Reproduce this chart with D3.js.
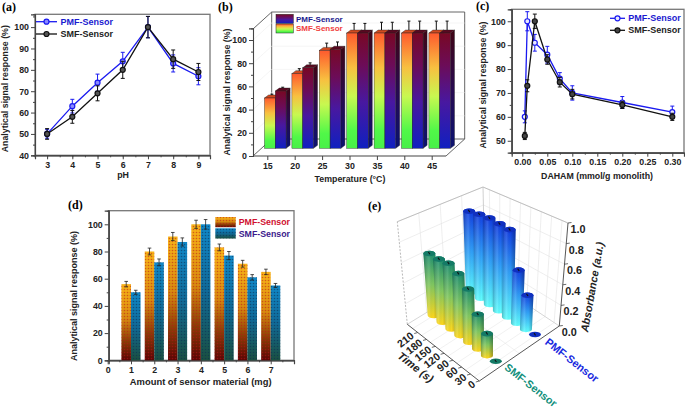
<!DOCTYPE html>
<html>
<head>
<meta charset="utf-8">
<script src="https://cdnjs.cloudflare.com/ajax/libs/d3/7.8.5/d3.min.js"></script>
<style>
  html, body { margin: 0; padding: 0; background: #fff; }
  text { font-family: "Liberation Sans", Arial, sans-serif; font-weight: bold; fill: #222; }
  .panel { font-family: "Liberation Serif", serif; font-size: 12px; fill: #000; }
  .axis path, .axis line { stroke: #444; }
  .axis text { font-size: 8.8px; }
</style>
</head>
<body>
<svg id="chart" width="685" height="410"></svg>
<script>
// (a) pH
const phValues = [3, 4, 5, 6, 7, 8, 9];
const phPmf = [50, 63, 74, 84, 100, 83, 77];
const phPmfErr = [2, 3.2, 4, 4.2, 5, 4, 4];
const phSmf = [50, 58, 69, 80, 100, 85, 79];
const phSmfErr = [2.5, 3, 3.5, 4, 5, 4.3, 4];

// (b) temperature
const temps = [15, 20, 25, 30, 35, 40, 45];
const tempSmf = [50, 71, 91, 106, 106, 106, 106];
const tempSmfErr = [2, 3, 5, 7, 8, 9, 9];
const tempPmf = [56, 76, 92, 106, 106, 106, 106];
const tempPmfErr = [2, 3, 5, 7, 8, 9, 9];

// (c) DAHAM
const dahamValues = [0.005, 0.01, 0.025, 0.05, 0.075, 0.1, 0.2, 0.3];
const dahamPmf = [60, 100, 91, 86, 76, 70, 66, 62];
const dahamPmfErr = [2.5, 4, 3.5, 3.5, 2.5, 3, 2.5, 2.5];
const dahamSmf = [52, 73, 100, 84, 74.5, 69.5, 65, 60];
const dahamSmfErr = [1.5, 2.5, 3, 2, 2, 2, 1.5, 1.5];

// (d) amount
const amounts = [1, 2, 3, 4, 5, 6, 7];
const amountPmf = [56, 80, 91, 100, 83, 71, 65];
const amountPmfErr = [2, 2.5, 3, 3, 2.5, 2.5, 2];
const amountSmf = [50, 72, 87, 100, 77, 61, 55];
const amountSmfErr = [1.5, 2.5, 3, 3.5, 3, 2, 1.5];

// (e) time
const times = [0, 30, 60, 90, 120, 150, 180, 210];
const timeSmf = [0.01, 0.2, 0.32, 0.5, 0.59, 0.635, 0.62, 0.62];
const timePmf = [0.01, 0.33, 0.52, 0.87, 0.88, 0.89, 0.88, 0.86];

const svg = d3.select("#chart");
const defs = svg.append("defs");

function vGrad(id, stops) {
  const g = defs.append("linearGradient").attr("id", id)
    .attr("x1", 0).attr("y1", 0).attr("x2", 0).attr("y2", 1);
  stops.forEach(s => g.append("stop").attr("offset", s[0]).attr("stop-color", s[1]));
}

function label(x, y, txt, size, opts = {}) {
  const t = svg.append("text")
    .attr("x", x).attr("y", y)
    .attr("text-anchor", opts.anchor || "middle")
    .attr("dominant-baseline", "central")
    .style("font-size", size + "px")
    .text(txt);
  if (opts.fill) t.style("fill", opts.fill);
  if (opts.rotate != null) t.attr("transform", `rotate(${opts.rotate},${x},${y})`);
  if (opts.italic) t.style("font-style", "italic");
  return t;
}

function panelLabel(x, y, txt) {
  svg.append("text").attr("class", "panel").attr("x", x).attr("y", y).text(txt);
}

// box plus major and minor ticks
function frame(x, y, o) {
  const [x0, x1] = x.range(), [y0, y1] = y.range();
  svg.append("rect").attr("x", x0).attr("y", y1).attr("width", x1 - x0).attr("height", y0 - y1)
    .attr("fill", "none").attr("stroke", "#777").attr("stroke-width", 1.3);
  const bx = svg.append("g").attr("class", "axis").attr("transform", `translate(0,${y0})`);
  bx.call(d3.axisBottom(x).tickValues(o.xMinor).tickSize(2).tickFormat(""));
  bx.call(g => g.selectAll(".tick text").remove());
  const bxM = svg.append("g").attr("class", "axis").attr("transform", `translate(0,${y0})`)
    .call(d3.axisBottom(x).tickValues(o.xTicks).tickSize(4).tickPadding(2).tickFormat(o.xFormat || (d => d)));
  bxM.select(".domain").attr("stroke-width", 1.2);
  const ly = svg.append("g").attr("class", "axis").attr("transform", `translate(${x0},0)`);
  ly.call(d3.axisLeft(y).tickValues(o.yMinor).tickSize(2).tickFormat(""));
  const lyM = svg.append("g").attr("class", "axis").attr("transform", `translate(${x0},0)`)
    .call(d3.axisLeft(y).tickValues(o.yTicks).tickSize(4).tickPadding(2));
  lyM.select(".domain").attr("stroke-width", 1.2);
}

function errorBars(g, xs, vals, errs, x, y, color, cap = 2, w = 1) {
  xs.forEach((d, i) => {
    const px = x(d), t = y(vals[i] + errs[i]), b = y(vals[i] - errs[i]);
    g.append("path").attr("d", `M${px - cap},${t}H${px + cap}M${px},${t}V${b}M${px - cap},${b}H${px + cap}`)
      .attr("stroke", color).attr("stroke-width", w).attr("fill", "none");
  });
}

function lineSeries(xs, vals, errs, x, y, color, fill) {
  const g = svg.append("g");
  errorBars(g, xs, vals, errs, x, y, color);
  g.append("path")
    .attr("d", d3.line().x((d, i) => x(xs[i])).y(d => y(d))(vals))
    .attr("fill", "none").attr("stroke", color).attr("stroke-width", 1.3);
  g.selectAll("circle").data(vals).enter().append("circle")
    .attr("cx", (d, i) => x(xs[i])).attr("cy", d => y(d)).attr("r", 2.5)
    .attr("fill", fill).attr("stroke", color).attr("stroke-width", 1.2);
}

function lineLegend(x0, x1, yy, tx, txt, color, fill, textColor) {
  svg.append("line").attr("x1", x0).attr("x2", x1).attr("y1", yy).attr("y2", yy)
    .attr("stroke", color).attr("stroke-width", 1.3);
  svg.append("circle").attr("cx", (x0 + x1) / 2).attr("cy", yy).attr("r", 2.5)
    .attr("fill", fill).attr("stroke", color).attr("stroke-width", 1.2);
  label(tx, yy, txt, 9, { anchor: "start", fill: textColor });
}

const blue = "#1a1af0", black = "#111";

// ---------- (a) ----------
{
  const x = d3.scaleLinear().domain([2.52, 9.46]).range([35, 210]);
  const y = d3.scaleLinear().domain([40, 106]).range([155.3, 14.3]);
  frame(x, y, {
    xTicks: phValues, xMinor: d3.range(2.5, 9.5, 0.5),
    yTicks: d3.range(40, 101, 10), yMinor: d3.range(45, 106, 10)
  });
  lineSeries(phValues, phPmf, phPmfErr, x, y, blue, "#8a8aff");
  lineSeries(phValues, phSmf, phSmfErr, x, y, black, "#555");
  lineLegend(36, 57, 21.7, 60.5, "PMF-Sensor", blue, "#8a8aff", "#1a1ad0");
  lineLegend(36, 57, 34, 60.5, "SMF-Sensor", black, "#555", "#222");
  label(5, 88.7, "Analytical signal response (%)", 8.8, { rotate: -90 });
  label(123, 175, "pH", 8.8);
  panelLabel(2, 11, "(a)");
}

// ---------- (b) ----------
{
  vGrad("smfBar", [[0, "#ff5a2e"], [0.3, "#f8c040"], [0.55, "#c8f850"], [0.85, "#50f848"], [1, "#48f048"]]);
  vGrad("smfSide", [[0, "#a03a18"], [0.5, "#88a030"], [1, "#2a8a28"]]);
  vGrad("pmfBar", [[0, "#780824"], [0.28, "#6c0c58"], [0.6, "#4818a0"], [1, "#1020c0"]]);
  vGrad("pmfSide", [[0, "#400414"], [0.5, "#280a50"], [1, "#0a1270"]]);

  const dx = 18.7, dy = -17;
  const x = d3.scaleLinear().domain([15, 45]).range([267.3, 431.7]);
  const y = d3.scaleLinear().domain([0, 110]).range([156, 28.4]);
  const floorY = 148.3, barW = 10.8, sideX = 4, sideY = -3, shift = 8;
  const xL = 253, xR = 446, y0 = 156, yT = 29;

  const wall = svg.append("g").attr("fill", "none");
  wall.append("path").attr("d", `M${xL},${y0}L${xL + dx},${y0 + dy}V${yT + dy}H${xR + dx}V${y0 + dy}H${xL + dx}`)
    .attr("stroke", "#555").attr("stroke-width", 0.9);
  wall.append("path").attr("d", `M${xL},${yT}L${xL + dx},${yT + dy}M${xR},${y0}L${xR + dx},${y0 + dy}`)
    .attr("stroke", "#555").attr("stroke-width", 0.9);
  d3.range(20, 101, 20).forEach(v => {
    wall.append("path").attr("d", `M${xL},${y(v)}L${xL + dx},${y(v) + dy}H${xR + dx}`)
      .attr("stroke", "#eee").attr("stroke-width", 0.6);
  });

  // axes
  svg.append("g").attr("class", "axis").attr("transform", `translate(${xL},0)`)
    .call(d3.axisLeft(y).tickValues(d3.range(10, 110, 20)).tickSize(2).tickFormat(""));
  const ly = svg.append("g").attr("class", "axis").attr("transform", `translate(${xL},0)`)
    .call(d3.axisLeft(y).tickValues(d3.range(0, 101, 20)).tickSize(4).tickPadding(2));
  ly.select(".domain").attr("stroke-width", 1.1);
  const lx = svg.append("g").attr("class", "axis").attr("transform", `translate(0,${y0})`)
    .call(d3.axisBottom(x).tickValues(temps).tickSize(4).tickPadding(3));
  lx.select(".domain").remove();
  svg.append("line").attr("x1", xL).attr("x2", xR).attr("y1", y0).attr("y2", y0).attr("stroke", "#444").attr("stroke-width", 1.1);

  function bar3d(px, top, fillFront, fillSide, fillTop) {
    const g = svg.append("g").attr("stroke", "#222").attr("stroke-width", 0.4);
    g.append("path").attr("d", `M${px + barW},${floorY}V${top}l${sideX},${sideY}V${floorY + sideY}z`).attr("fill", `url(#${fillSide})`);
    g.append("path").attr("d", `M${px},${top}h${barW}l${sideX},${sideY}h${-barW}z`).attr("fill", fillTop);
    g.append("rect").attr("x", px).attr("y", top).attr("width", barW).attr("height", floorY - top).attr("fill", `url(#${fillFront})`);
  }

  temps.forEach((t, i) => {
    const c = x(t) + shift;
    [[c - barW, tempSmf[i], tempSmfErr[i]], [c, tempPmf[i], tempPmfErr[i]]].forEach(b => {
      const px = b[0] + barW / 2 + sideX / 2, top = y(b[1]) + sideY / 2, e = y(b[1] + b[2]) + sideY / 2;
      svg.append("path").attr("d", `M${px - 1.5},${e}h3M${px},${e}V${top}`).attr("stroke", "#111").attr("stroke-width", 1).attr("fill", "none");
    });
    bar3d(c - barW, y(tempSmf[i]), "smfBar", "smfSide", "#d04a20");
    bar3d(c, y(tempPmf[i]), "pmfBar", "pmfSide", "#5a0820");
  });

  // legend
  svg.append("rect").attr("x", 276).attr("y", 14.3).attr("width", 17.3).attr("height", 9)
    .attr("fill", "url(#pmfBar)").attr("stroke", "#222").attr("stroke-width", 0.5);
  svg.append("rect").attr("x", 276).attr("y", 24).attr("width", 17.3).attr("height", 9)
    .attr("fill", "url(#smfBar)").attr("stroke", "#222").attr("stroke-width", 0.5);
  label(296, 19, "PMF-Sensor", 8, { anchor: "start", fill: "#1a1a90" });
  label(296, 28.7, "SMF-Sensor", 8, { anchor: "start", fill: "#f04040" });

  label(227, 92, "Analytical signal response (%)", 8.8, { rotate: -90 });
  label(350, 179, "Temperature (°C)", 8.8);
  panelLabel(218, 11, "(b)");
}

// ---------- (c) ----------
{
  const x = d3.scaleLinear().domain([-0.0212, 0.3234]).range([511.7, 684]);
  const y = d3.scaleLinear().domain([45, 105]).range([152.7, 9.3]);
  frame(x, y, {
    xTicks: d3.range(0, 0.31, 0.05), xMinor: d3.range(0.025, 0.33, 0.05), xFormat: d3.format(".2f"),
    yTicks: d3.range(50, 101, 10), yMinor: d3.range(45, 106, 10)
  });
  lineSeries(dahamValues, dahamPmf, dahamPmfErr, x, y, blue, "#e8e8ff");
  lineSeries(dahamValues, dahamSmf, dahamSmfErr, x, y, black, "#444");
  lineLegend(610, 625, 18.3, 628.3, "PMF-Sensor", blue, "#e8e8ff", "#1a1ad0");
  lineLegend(610, 625, 30.3, 628.3, "SMF-Sensor", black, "#444", "#222");
  label(483, 85, "Analytical signal response (%)", 8.8, { rotate: -90 });
  label(597, 175.7, "DAHAM (mmol/g monolith)", 8.8);
  panelLabel(476, 10, "(c)");
}

// ---------- (d) ----------
{
  vGrad("orangeGrad", [[0, "#f8b418"], [0.45, "#d88a10"], [0.75, "#8a3c06"], [1, "#5a0404"]]);
  vGrad("blueGrad", [[0, "#1088c8"], [0.5, "#106a98"], [1, "#1a5040"]]);
  const dots = (id, color) => {
    const p = defs.append("pattern").attr("id", id).attr("patternUnits", "userSpaceOnUse")
      .attr("width", 3).attr("height", 3);
    p.append("circle").attr("cx", 1.5).attr("cy", 1.5).attr("r", 0.8).attr("fill", color).attr("fill-opacity", 0.55);
  };
  dots("orangeDots", "#b81818");
  dots("blueDots", "#0a2c50");

  const x = d3.scaleLinear().domain([0.043, 8]).range([108.7, 294]);
  const y = d3.scaleLinear().domain([0, 110]).range([360.3, 210.7]);
  frame(x, y, {
    xTicks: d3.range(0, 8), xMinor: [0.5, 1.5, 2.5, 3.5, 4.5, 5.5, 6.5, 7.5, 8],
    yTicks: d3.range(0, 101, 20), yMinor: d3.range(10, 110, 20)
  });

  const barW = x(0.41) - x(0);
  const drawBars = (vals, offset, grad, dotId) => {
    const g = svg.append("g");
    [grad, dotId].forEach(f => {
      g.selectAll(null).data(vals).enter().append("rect")
        .attr("x", (d, i) => x(amounts[i]) + offset)
        .attr("y", d => y(d)).attr("width", barW).attr("height", d => y(0) - y(d))
        .attr("fill", `url(#${f})`);
    });
  };
  drawBars(amountPmf, -barW, "orangeGrad", "orangeDots");
  drawBars(amountSmf, 0, "blueGrad", "blueDots");
  const eg = svg.append("g");
  errorBars(eg, amounts, amountPmf, amountPmfErr, d => x(d) - barW / 2, y, "#222", 1.8, 0.8);
  errorBars(eg, amounts, amountSmf, amountSmfErr, d => x(d) + barW / 2, y, "#222", 1.8, 0.8);

  [[217, "orange", "PMF-Sensor", "#d01030"], [228.3, "blue", "SMF-Sensor", "#3b1a8c"]].forEach(l => {
    [l[1] + "Grad", l[1] + "Dots"].forEach(f => {
      svg.append("rect").attr("x", 215.3).attr("y", l[0]).attr("width", 20.4).attr("height", 10.2).attr("fill", `url(#${f})`);
    });
    label(238.7, l[0] + 5.2, l[2], 8.8, { anchor: "start", fill: l[3] });
  });

  label(74, 296, "Analytical signal response (%)", 9, { rotate: -90 });
  label(200.7, 381, "Amount of sensor material (mg)", 9.4);
  panelLabel(68, 209, "(d)");
}

// ---------- (e) ----------
{
  // wall and floor corners in screen space
  const floorC = { O: [479.3, 381], L: [407.3, 324.3], R: [559.3, 326], B: [485, 276.7] };
  const topC = { O: [479.3, 265], L: [397.3, 221.7], R: [568, 223], B: [483, 187] };
  const aOf = d3.scaleLinear().domain([0, 210]).range([0.07, 0.925]);
  const zOf = d3.scaleLinear().domain([0, 1]).range([0, 1]);
  const sideB = { SMF: 0.27, PMF: 0.76 };

  const bilin = (c, a, b) => [0, 1].map(k =>
    c.O[k] * (1 - a) * (1 - b) + c.L[k] * a * (1 - b) + c.R[k] * (1 - a) * b + c.B[k] * a * b);
  const proj = (a, b, z) => {
    const f = bilin(floorC, a, b), u = bilin(topC, a, b), n = zOf(z);
    return [f[0] + (u[0] - f[0]) * n, f[1] + (u[1] - f[1]) * n];
  };
  const seg = (g, p, q, color, w) => g.append("line")
    .attr("x1", p[0]).attr("y1", p[1]).attr("x2", q[0]).attr("y2", q[1])
    .attr("stroke", color).attr("stroke-width", w);

  const grid = svg.append("g");
  const gridColor = "#e2e2e2";
  d3.range(0.2, 1.01, 0.2).forEach(z => {
    seg(grid, proj(1, 0, z), proj(1, 1, z), gridColor, 0.6);
    seg(grid, proj(1, 1, z), proj(0, 1, z), gridColor, 0.6);
  });
  times.forEach(t => {
    seg(grid, proj(aOf(t), 1, 0), proj(aOf(t), 1, 1), gridColor, 0.6);
    seg(grid, proj(aOf(t), 0, 0), proj(aOf(t), 1, 0), gridColor, 0.5);
  });
  [0.25, 0.5, 0.75].forEach(b => {
    seg(grid, proj(1, b, 0), proj(1, b, 1), gridColor, 0.6);
    seg(grid, proj(0, b, 0), proj(1, b, 0), gridColor, 0.5);
  });
  seg(grid, proj(1, 0, 0), proj(1, 0, 1), "#999", 0.7).attr("stroke-dasharray", "2,1.5");
  seg(grid, proj(1, 0, 1), proj(1, 1, 1), "#aaa", 0.7);
  seg(grid, proj(1, 1, 1), proj(0, 1, 1), "#aaa", 0.7);
  seg(grid, proj(1, 1, 0), proj(1, 1, 1), "#bbb", 0.7);
  seg(grid, proj(1, 0, 0), proj(1, 1, 0), "#bbb", 0.6);
  seg(grid, proj(1, 1, 0), proj(0, 1, 0), "#bbb", 0.6);

  vGrad("pmfCyl", [[0, "#1038e0"], [0.5, "#30a0f8"], [1, "#60ffff"]]);
  vGrad("smfCyl", [[0, "#148a70"], [0.5, "#80c860"], [1, "#ffd81c"]]);
  const shade = defs.append("linearGradient").attr("id", "cylShade")
    .attr("x1", 0).attr("y1", 0).attr("x2", 1).attr("y2", 0);
  [[0, "#000", 0.22], [0.35, "#fff", 0.12], [0.6, "#000", 0], [1, "#000", 0.3]].forEach(s =>
    shade.append("stop").attr("offset", s[0]).attr("stop-color", s[1]).attr("stop-opacity", s[2]));

  const rx = 6, ry = 2.8;
  function cylinder(t, b, z, grad, capColor) {
    const g = svg.append("g");
    const a = aOf(t), f = proj(a, b, 0), u = proj(a, b, z);
    if (z > 0.05) {
      const d = `M${f[0] - rx},${f[1]}A${rx},${ry} 0 0 0 ${f[0] + rx},${f[1]}L${u[0] + rx},${u[1]}A${rx},${ry} 0 0 0 ${u[0] - rx},${u[1]}Z`;
      g.append("path").attr("d", d).attr("fill", `url(#${grad})`);
      g.append("path").attr("d", d).attr("fill", "url(#cylShade)");
    }
    g.append("ellipse").attr("cx", u[0]).attr("cy", u[1]).attr("rx", rx).attr("ry", ry).attr("fill", capColor);
    g.append("path").attr("d", `M${u[0] - 1},${u[1] - 1.5}L${u[0] + 0.6},${u[1] + 0.8}`).attr("stroke", "#111").attr("stroke-width", 1.1);
  }

  const order = times.map((t, i) => i).reverse();
  order.forEach(i => cylinder(times[i], sideB.PMF, timePmf[i], "pmfCyl", "#1030c0"));
  order.forEach(i => cylinder(times[i], sideB.SMF, timeSmf[i], "smfCyl", "#147a66"));

  // bottom axes
  seg(svg, floorC.O, floorC.L, "#444", 0.9);
  seg(svg, floorC.O, floorC.R, "#444", 0.9);
  seg(svg, floorC.R, topC.R, "#444", 0.9);

  const rotT = -38;
  times.forEach(t => {
    const p = proj(aOf(t) - 0.07, 0, 0);
    seg(svg, p, [p[0] - 3.5, p[1] + 1], "#444", 0.8);
    label(p[0] - 5.5, p[1] + 1.5, t, 10.6, { anchor: "end", rotate: rotT });
  });
  d3.range(0, 1.01, 0.2).forEach(z => {
    const p = proj(0, 1, z);
    seg(svg, p, [p[0] + 3.5, p[1] - 0.5], "#444", 0.8);
    label(p[0] + 10, p[1] + 6, z.toFixed(1), 10.8);
  });
  label(415.7, 367, "Time (s)", 11, { italic: true, rotate: 38 });
  label(592, 287, "Absorbance (a.u.)", 10.8, { italic: true, rotate: -80 });
  label(572, 360, "PMF-Sensor", 11, { rotate: 38, fill: "#1a2ae0" });
  label(531, 385, "SMF-Sensor", 10.8, { rotate: 38, fill: "#12907c" });
  panelLabel(368, 210, "(e)");
}
</script>
</body>
</html>
